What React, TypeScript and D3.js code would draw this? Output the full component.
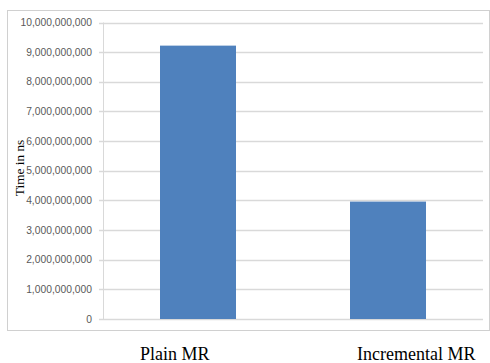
import React from "react";
import * as d3 from "d3";

const categories = ["Plain MR", "Incremental MR"];
const values = [9220000000, 3960000000];
const yTicks = [0, 1e9, 2e9, 3e9, 4e9, 5e9, 6e9, 7e9, 8e9, 9e9, 1e10];
const yTitle = "Time in ns";

export default function App() {
  const W = 490, H = 363;
  const left = 103, right = 483, top = 22.5, bottom = 319;
  const x = d3.scaleBand<string>().domain(categories).range([left, right]).paddingInner(0.6).paddingOuter(0.3);
  const y = d3.scaleLinear().domain([0, 1e10]).range([bottom, top]);
  const fmt = d3.format(",");
  const labelX = [140, 357];
  return (
    <svg width={W} height={H} style={{ position: "absolute", left: 0, top: 0 }}>
      <rect x={0} y={0} width={W} height={H} fill="#fff" />
      <rect x={7.5} y={10.5} width={482} height={320} fill="none" stroke="#d0d0d0" strokeWidth={1} />
      {yTicks.map((t) => (
        <g key={t}>
          <line x1={left - 4} x2={right} y1={Math.round(y(t)) + 0.5} y2={Math.round(y(t)) + 0.5} stroke="#d9d9d9" strokeWidth={1.3} />
          <text x={92} y={y(t) + 3.5} textAnchor="end" fontFamily="Liberation Sans, Arial, sans-serif" fontSize={10.3} fill="#595959">
            {fmt(t)}
          </text>
        </g>
      ))}
      <line x1={left + 0.5} x2={left + 0.5} y1={top} y2={bottom} stroke="#d9d9d9" strokeWidth={1} />
      {categories.map((c, i) => (
        <rect key={c} x={x(c)} y={y(values[i])} width={x.bandwidth()} height={bottom - y(values[i])} fill="#4f81bd" />
      ))}
      {categories.map((c, i) => (
        <text key={c} x={labelX[i]} y={360} fontFamily="Liberation Serif, Times New Roman, serif" fontSize={18} fill="#000">
          {c}
        </text>
      ))}
      <text transform={`translate(24,168) rotate(-90)`} textAnchor="middle" fontFamily="Liberation Serif, Times New Roman, serif" fontSize={13.3} fill="#000">
        {yTitle}
      </text>
    </svg>
  );
}
